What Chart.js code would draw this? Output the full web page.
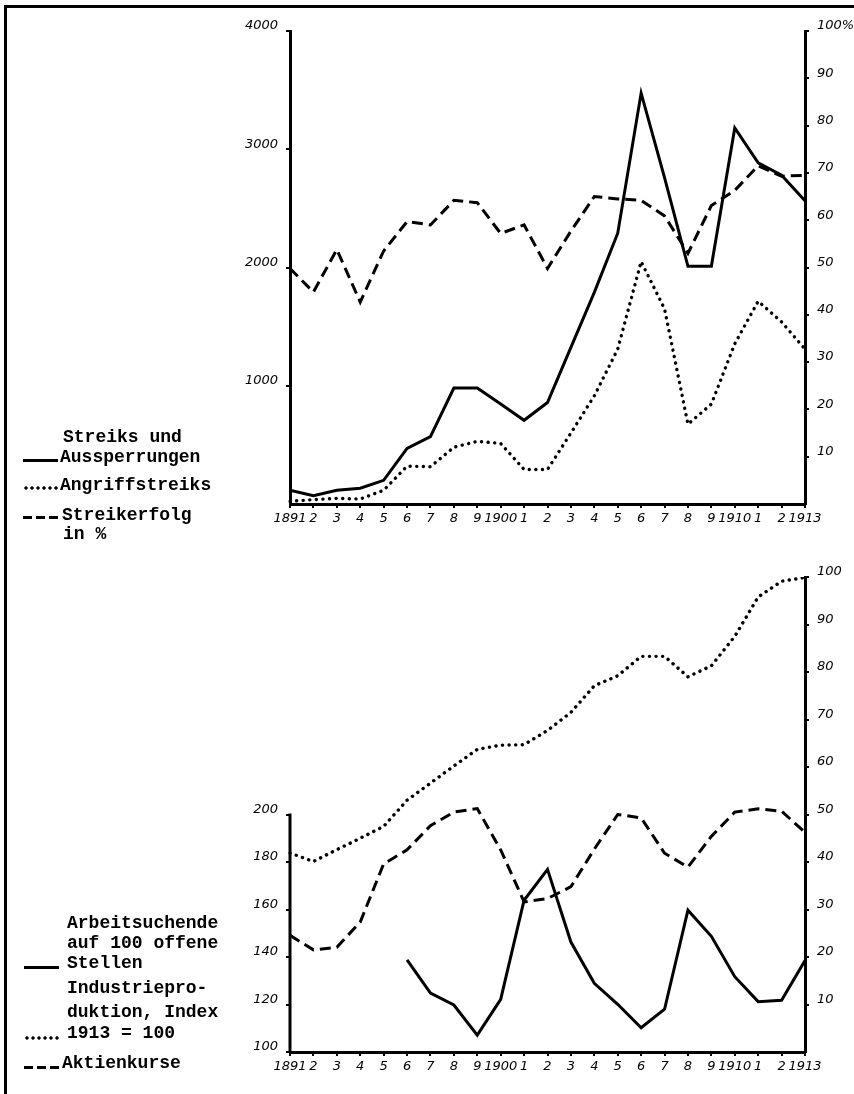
<!DOCTYPE html>
<html>
<head>
<meta charset="utf-8">
<script src="https://cdn.jsdelivr.net/npm/chart.js@4.4.1/dist/chart.umd.min.js"></script>
<style>
	body { margin: 0; background: #fff; }
	#page { position: relative; width: 854px; height: 1094px; overflow: hidden; background: #fff; }
	#frame { position: absolute; left: 4px; top: 5px; right: -5px; bottom: -5px; border-top: 3px solid #000; border-left: 3px solid #000; }
	canvas { position: absolute; left: 0; }
	.txt { position: absolute; font-family: "Liberation Mono", monospace; font-weight: bold; font-size: 18px; line-height: 20px; color: #000; white-space: pre; }
	.smp { position: absolute; height: 3px; width: 35px; }
	.solid { background: #000; }
	.dash { background: repeating-linear-gradient(90deg, #000 0 9px, transparent 9px 13px); }
	.dots { height: 4px; background: radial-gradient(circle, #000 1.4px, transparent 1.9px) 0 0 / 6px 4px repeat-x; }
</style>
</head>
<body>
<div id="page">
	<div id="frame"></div>
	<canvas id="streikChart" width="854" height="545" style="top:0"></canvas>
	<canvas id="konjunkturChart" width="854" height="549" style="top:545px"></canvas>

	<!-- legend top -->
	<div class="txt" style="left:63px;top:427px">Streiks und</div>
	<div class="smp solid" style="left:23px;top:459px"></div>
	<div class="txt" style="left:60px;top:447px">Aussperrungen</div>
	<div class="smp dots" style="left:23px;top:486px"></div>
	<div class="txt" style="left:60px;top:475px">Angriffstreiks</div>
	<div class="smp dash" style="left:23px;top:516px"></div>
	<div class="txt" style="left:62px;top:505px">Streikerfolg</div>
	<div class="txt" style="left:63px;top:524px">in %</div>

	<!-- legend bottom -->
	<div class="txt" style="left:67px;top:913px">Arbeitsuchende</div>
	<div class="txt" style="left:67px;top:933px">auf 100 offene</div>
	<div class="smp solid" style="left:24px;top:966px"></div>
	<div class="txt" style="left:67px;top:953px">Stellen</div>
	<div class="txt" style="left:67px;top:978px">Industriepro-</div>
	<div class="txt" style="left:67px;top:1002px">duktion, Index</div>
	<div class="smp dots" style="left:24px;top:1036px"></div>
	<div class="txt" style="left:67px;top:1023px">1913 = 100</div>
	<div class="smp dash" style="left:24px;top:1066px"></div>
	<div class="txt" style="left:62px;top:1053px">Aktienkurse</div>
</div>

<script>
// years on the x axis and the way they are written under the axis
const years = [1891, 1892, 1893, 1894, 1895, 1896, 1897, 1898, 1899, 1900, 1901, 1902,
	1903, 1904, 1905, 1906, 1907, 1908, 1909, 1910, 1911, 1912, 1913];
const yearTicks = ["1891", "2", "3", "4", "5", "6", "7", "8", "9", "1900", "1", "2",
	"3", "4", "5", "6", "7", "8", "9", "1910", "1", "2", "1913"];

// top chart
const streiks = [116, 71, 116, 133, 200, 470, 570, 980, 980, 845, 708, 858,
	1325, 1790, 2290, 3475, 2760, 2010, 2010, 3180, 2885, 2780, 2565];
const angriffstreiks = [23, 37, 48, 42, 116, 320, 315, 480, 530, 512, 292, 292,
	600, 915, 1310, 2050, 1650, 675, 845, 1355, 1715, 1540, 1310];
const streikerfolg = [49.8, 44.8, 53.8, 42.7, 53.5, 59.7, 59.0, 64.2, 63.7, 57.2, 59.0, 49.8,
	57.7, 65.0, 64.5, 64.2, 60.9, 53.0, 63.1, 66.3, 71.5, 69.3, 69.5];

// bottom chart
const arbeitsuchende = [null, null, null, null, null, 138.8, 124.8, 119.8, 107.1, 122.2, 163.9, 176.9,
	146.3, 128.9, 120.1, 110.2, 118.0, 159.7, 148.7, 131.7, 121.2, 121.8, 138.5];
const industrie = [41.9, 40.1, 42.6, 45.0, 47.5, 53.0, 56.6, 60.2, 63.7, 64.6, 64.7, 67.7,
	71.5, 77.1, 79.2, 83.3, 83.3, 79.0, 81.3, 87.5, 95.8, 99.1, 99.9];
const aktienkurse = [149.1, 143.0, 144.1, 154.7, 179.2, 185.1, 195.3, 201.0, 202.5, 185.1, 163.2, 164.6,
	169.6, 185.4, 200.0, 198.6, 183.7, 177.8, 190.8, 201.0, 202.4, 201.4, 192.5];

const tickFont = { family: "DejaVu Sans", size: 13, style: "italic" };
const solid = { borderColor: "#000", borderWidth: 3, pointRadius: 0, tension: 0, fill: false };
const dashed = { ...solid, borderDash: [11, 6] };
const dotted = { ...solid, borderWidth: 3.4, borderDash: [0.1, 6.5], borderCapStyle: "round" };

function xAxis(height) {
	return {
		type: "category",
		offset: false,
		border: { display: true, color: "#000", width: 3 },
		grid: { drawOnChartArea: false, drawTicks: true, tickLength: 4, color: "#000", lineWidth: 2 },
		ticks: {
			autoSkip: false, maxRotation: 0, color: "#000", font: tickFont, padding: 3,
			callback: (v, i) => yearTicks[i],
		},
		afterFit: (s) => { s.height = height; },
	};
}

function yAxis(position, min, max, step, label, width, showBorder) {
	return {
		position: position,
		min: min,
		max: max,
		border: { display: showBorder, color: "#000", width: 3 },
		grid: { drawOnChartArea: false, drawTicks: true, tickLength: 4, color: "#000", lineWidth: 2 },
		ticks: { stepSize: step, color: "#000", font: tickFont, padding: 8, labelOffset: -5, callback: label },
		afterFit: (s) => { s.width = width; },
	};
}

// left border of the bottom chart only runs up to 200
const shortBorder = {
	id: "shortBorder",
	afterDraw: (chart) => {
		const s = chart.scales.y;
		const ctx = chart.ctx;
		ctx.save();
		ctx.strokeStyle = "#000";
		ctx.lineWidth = 3;
		ctx.beginPath();
		ctx.moveTo(chart.chartArea.left, s.getPixelForValue(200) - 1);
		ctx.lineTo(chart.chartArea.left, chart.chartArea.bottom + 1);
		ctx.stroke();
		ctx.restore();
	},
};

new Chart(document.getElementById("streikChart"), {
	type: "line",
	data: {
		labels: years,
		datasets: [
			{ label: "Streiks und Aussperrungen", data: streiks, yAxisID: "y", ...solid },
			{ label: "Angriffstreiks", data: angriffstreiks, yAxisID: "y", ...dotted },
			{ label: "Streikerfolg in %", data: streikerfolg, yAxisID: "y1", ...dashed },
		],
	},
	options: {
		responsive: false,
		animation: false,
		devicePixelRatio: 1,
		layout: { padding: { top: 31, left: 0, right: 0, bottom: 0 } },
		plugins: { legend: { display: false }, tooltip: { enabled: false } },
		scales: {
			x: xAxis(41),
			y: yAxis("left", 0, 4000, 1000, (v) => (v == 0 ? null : String(v)), 290, true),
			y1: yAxis("right", 0, 100, 10, (v) => (v == 0 ? null : v == 100 ? "100%" : String(v)), 49, true),
		},
	},
});

new Chart(document.getElementById("konjunkturChart"), {
	type: "line",
	data: {
		labels: years,
		datasets: [
			{ label: "Arbeitsuchende auf 100 offene Stellen", data: arbeitsuchende, yAxisID: "y", ...solid },
			{ label: "Industrieproduktion, Index 1913 = 100", data: industrie, yAxisID: "y1", ...dotted },
			{ label: "Aktienkurse", data: aktienkurse, yAxisID: "y", ...dashed },
		],
	},
	options: {
		responsive: false,
		animation: false,
		devicePixelRatio: 1,
		layout: { padding: { top: 32, left: 0, right: 0, bottom: 0 } },
		plugins: { legend: { display: false }, tooltip: { enabled: false } },
		scales: {
			x: xAxis(42),
			y: yAxis("left", 100, 300, 20, (v) => (v > 200 ? null : String(v)), 290, false),
			y1: yAxis("right", 0, 100, 10, (v) => (v == 0 ? null : String(v)), 49, true),
		},
	},
	plugins: [shortBorder],
});
</script>
</body>
</html>
